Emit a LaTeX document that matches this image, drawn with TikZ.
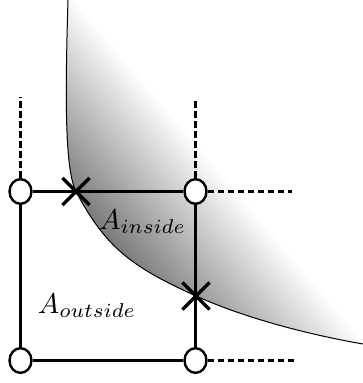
\documentclass[tikz,border=0pt]{standalone}
\usepackage{graphicx}
\usetikzlibrary{shapes.geometric,shapes.misc}
\tikzset{
  vnode/.style={ellipse, draw, fill=white, line width=1.8pt, inner sep=0pt,
                minimum width=16.5pt, minimum height=18.5pt},
  solidline/.style={line width=1.7pt},
  dashline/.style={line width=1.7pt, dash pattern=on 5pt off 2.5pt},
  crossmark/.style={cross out, draw, line width=2.4pt, inner sep=0pt, minimum size=18pt},
  boundary/.style={line width=0.75pt},
  areatext/.style={anchor=base, inner sep=0pt}
}
\newcommand{\bigmath}[1]{\scalebox{2.15}{$#1$}}
\begin{document}
\begin{tikzpicture}[x=0.75pt, y=-0.75pt]
\useasboundingbox (0,0) rectangle (363,383);
% shaded region
\begin{scope}
  \clip (68,-2) -- (68,0) .. controls (65,100) and (65,170) .. (76,191.5)
        .. controls (106,248) and (132,267) .. (196,296)
        .. controls (246,318.5) and (309,334.6) .. (363,344)
        -- (365,344) -- (365,-2) -- cycle;
  \foreach \i in {0,...,100}{
    \pgfmathsetmacro\va{-120+\i*2}
    \pgfmathsetmacro\vb{\va+3}
    \pgfmathsetmacro\p{max(0,min(55,55*(75-\va-1)/180))}
    \fill[black!\p] (\va-8.5,-10) -- (\vb-8.5,-10) -- (\vb+340,400) -- (\va+340,400) -- cycle;
  }
\end{scope}
% boundary curve
\draw[boundary] (68,0) .. controls (65,100) and (65,170) .. (76,191.5)
        .. controls (106,248) and (132,267) .. (196,296)
        .. controls (246,318.5) and (309,334.6) .. (363,344);
% grid nodes
\node[vnode] (tl) at (20.5,191.5) {};
\node[vnode] (tr) at (195.5,191.5) {};
\node[vnode] (bl) at (20.5,360.5) {};
\node[vnode] (br) at (195.5,360.5) {};
\coordinate (tlup) at (20.5,97);
\coordinate (trup) at (195.5,100);
\coordinate (trright) at (292,191.5);
\coordinate (brright) at (295,360.5);
% cell edges
\draw[solidline] (tl) -- (tr);
\draw[solidline] (tr) -- (br);
\draw[solidline] (br) -- (bl);
\draw[solidline] (bl) -- (tl);
% dashed continuations
\draw[dashline] (tl) -- (tlup);
\draw[dashline] (tr) -- (trup);
\draw[dashline] (tr) -- (trright);
\draw[dashline] (br) -- (brright);
% intersections
\node[crossmark] (x1) at (76,191.5) {};
\node[crossmark] (x2) at (196,296) {};
% labels
\node[areatext] (ain) at (142.5,229) {\bigmath{A_{inside}}};
\node[areatext] (aout) at (87,313) {\bigmath{A_{outside}}};
\end{tikzpicture}
\end{document}
